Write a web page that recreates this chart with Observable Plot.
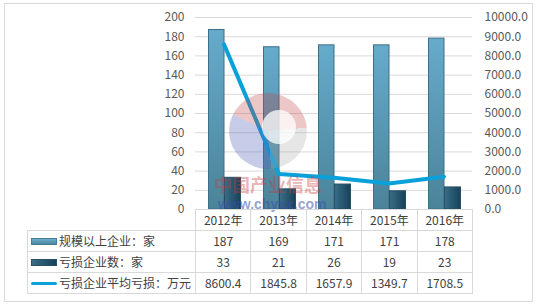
<!DOCTYPE html>
<html><head><meta charset="utf-8">
<script src="https://cdn.jsdelivr.net/npm/d3@7"></script>
<script src="https://cdn.jsdelivr.net/npm/@observablehq/plot@0.6"></script>
<style>
body{margin:0;background:#fff;font-family:"Noto Sans CJK SC","Noto Sans",sans-serif;}
#wrap{position:relative;width:536px;height:305px;overflow:hidden;}
#frame{position:absolute;left:4px;top:3px;width:527px;height:297px;border:1px solid #d9d9d9;}
#chart{position:absolute;left:0;top:0;}
#tbl{position:absolute;left:27px;top:209px;border-collapse:collapse;font-size:12px;color:#404040;table-layout:fixed;}
#tbl td{border:1px solid #d9d9d9;height:20px;padding:0;text-align:center;line-height:20px;white-space:nowrap;}
#tbl td.blank{border:none;}
#tbl td.lab{text-align:left;padding-left:3px;}
.sw{display:inline-block;width:26px;vertical-align:middle;margin-right:2px;position:relative;top:-1px;}
#wm{position:absolute;left:0;top:0;width:536px;height:305px;pointer-events:none;}
</style></head>
<body>
<div id="wrap">
<div id="frame"></div>
<div id="chart"></div>
<div id="wm"></div>
<table id="tbl"></table>
</div>
<script>
const years = ["2012年","2013年","2014年","2015年","2016年"];
const enterprises = [187,169,171,171,178];
const lossEnterprises = [33,21,26,19,23];
const avgLoss = [8600.4,1845.8,1657.9,1349.7,1708.5];
const seriesNames = ["规模以上企业：家","亏损企业数：家","亏损企业平均亏损：万元"];
const leftTicks = d3.range(0,201,20);
const rightTicks = d3.range(0,10001,1000);

const ratio = 200/10000;
const rows = years.map((y,i)=>({year:y, a:enterprises[i], b:lossEnterprises[i], c:avgLoss[i]}));

const plot = Plot.plot({
  width:536, height:212,
  marginLeft:195, marginRight:64, marginTop:17, marginBottom:3,
  style:{fontFamily:'"Noto Sans CJK SC",sans-serif', fontSize:"12px", color:"#595959", background:"transparent", overflow:"visible"},
  x:{type:"band", domain:years, padding:0, axis:null},
  y:{domain:[0,200], axis:null},
  marks:[
    Plot.ruleY(leftTicks.filter(d=>d>0), {stroke:"#d9d9d9", strokeWidth:1}),
    Plot.axisY(leftTicks, {anchor:"left", tickSize:0, tickPadding:11, fill:"#595959", fontSize:12}),
    Plot.axisY(rightTicks.map(d=>d*ratio), {anchor:"right", tickSize:0, tickPadding:12, fill:"#595959", fontSize:12, tickFormat:d=>(d/ratio).toFixed(1)}),
    Plot.barY(rows, {x:"year", y:"a", fill:"url(#gLight)", stroke:"#3c6f88", strokeWidth:1, insetLeft:12.5, insetRight:27}),
    Plot.barY(rows, {x:"year", y:"b", fill:"url(#gDark)", stroke:"#2a4f63", strokeWidth:1, insetLeft:28.5, insetRight:10.5}),
    Plot.line(rows, {x:"year", y:d=>d.c*ratio, stroke:"#0aa1da", strokeWidth:4, strokeLinejoin:"round", strokeLinecap:"round"})
  ]
});
const defs = d3.select(plot).insert("defs",":first-child");
const g1 = defs.append("linearGradient").attr("id","gLight").attr("x1",0).attr("y1",0).attr("x2",0).attr("y2",1);
g1.append("stop").attr("offset","0%").attr("stop-color","#66abcb");
g1.append("stop").attr("offset","100%").attr("stop-color","#4b8399");
const g2 = defs.append("linearGradient").attr("id","gDark").attr("x1",0).attr("y1",0).attr("x2",1).attr("y2",0);
g2.append("stop").attr("offset","0%").attr("stop-color","#3a6d86");
g2.append("stop").attr("offset","100%").attr("stop-color","#16425a");
document.getElementById("chart").appendChild(plot);

// watermark
document.getElementById("wm").innerHTML = `
<div style="position:absolute;left:229px;top:93px;width:78px;height:76px;border-radius:50%;
 background:conic-gradient(from 0deg, rgba(195,70,70,0.30) 0deg 85deg, rgba(165,165,165,0.28) 85deg 175deg, rgba(80,95,185,0.32) 175deg 295deg, rgba(195,70,70,0.30) 295deg 360deg);"></div>
<div style="position:absolute;left:262px;top:110px;width:34px;height:34px;border-radius:50%;background:rgba(255,255,255,0.75);"></div>
<div style="position:absolute;left:214px;top:175px;font-size:18px;line-height:18px;font-weight:bold;color:rgba(200,60,60,0.40);">中国产业信息</div>
<div style="position:absolute;left:218px;top:197px;font-size:14px;line-height:14px;font-weight:bold;color:rgba(60,80,170,0.55);font-family:'Liberation Sans',sans-serif;">www.chyxx.com</div>`;

// data table
const tbl = document.getElementById("tbl");
const colW = 55.4;
let html = `<colgroup><col style="width:168px">${years.map(()=>`<col style="width:${colW}px">`).join("")}</colgroup>`;
html += `<tr><td class="blank"></td>${years.map(y=>`<td>${y}</td>`).join("")}</tr>`;
const sw = [
  `<span class="sw" style="height:7px;background:linear-gradient(#6aaecd,#4c869c);border:1px solid #4a7e96;box-sizing:border-box"></span>`,
  `<span class="sw" style="height:7px;background:linear-gradient(90deg,#3a6d86,#16425a);border:1px solid #2a4f63;box-sizing:border-box"></span>`,
  `<span class="sw" style="height:3px;background:#0aa1da;border-radius:2px"></span>`
];
const vals = [enterprises.map(String), lossEnterprises.map(String), avgLoss.map(v=>v.toFixed(1))];
seriesNames.forEach((n,i)=>{
  html += `<tr><td class="lab">${sw[i]}${n}</td>${vals[i].map(v=>`<td>${v}</td>`).join("")}</tr>`;
});
tbl.innerHTML = html;
</script>
</body></html>
